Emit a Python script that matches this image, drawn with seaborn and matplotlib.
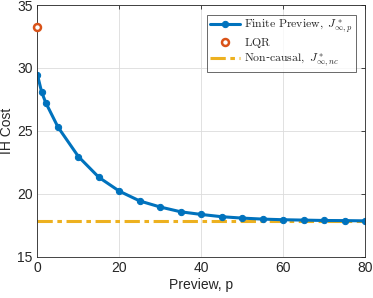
import numpy as np
import pandas as pd
import matplotlib
matplotlib.use("Agg")
import matplotlib.pyplot as plt
import seaborn as sns

# values
preview = [0, 1, 2, 5, 10, 15, 20, 25, 30, 35, 40, 45, 50, 55, 60, 65, 70, 75, 80]
finite_cost = [29.44, 28.1, 27.25, 25.3, 22.95, 21.3, 20.2, 19.42, 18.94, 18.56,
               18.35, 18.17, 18.06, 17.98, 17.93, 17.9, 17.87, 17.86, 17.84]
lqr_cost = 33.25
noncausal_cost = 17.82

df = pd.DataFrame({"p": preview, "J": finite_cost})

sns.set_style("white")
plt.rcParams["font.family"] = ["Liberation Sans", "DejaVu Sans"]
plt.rcParams["mathtext.fontset"] = "cm"

blue = "#0072BD"
orange = "#D95319"
yellow = "#EDB120"

fig = plt.figure(figsize=(3.73, 2.98), dpi=100)
ax = fig.add_axes([0.1005, 0.139, 0.878, 0.844])

sns.lineplot(data=df, x="p", y="J", ax=ax, color=blue, linewidth=2.2,
             marker="o", markersize=4.5, markeredgecolor=blue,
             label=r"$\mathrm{Finite\ Preview,}\ J^*_{\infty,p}$")
ax.plot([0], [lqr_cost], linestyle="none", marker="o", markersize=5,
        markerfacecolor="white", markeredgecolor=orange, markeredgewidth=1.8,
        label=r"$\mathrm{LQR}$", clip_on=False, zorder=5)
ax.axhline(noncausal_cost, color=yellow, linewidth=2.2, linestyle=(0, (5, 1.5, 1.5, 1.5)),
           label=r"$\mathrm{Non}$-$\mathrm{causal,}\ J^*_{\infty,nc}$", zorder=1)

ax.set_xlim(0, 80)
ax.set_ylim(15, 35)
ax.set_xticks([0, 20, 40, 60, 80])
ax.set_yticks([15, 20, 25, 30, 35])
ax.set_xlabel("Preview, p", fontsize=10, color="#262626", labelpad=2)
ax.set_ylabel("IH Cost", fontsize=10, color="#262626", labelpad=2)
ax.tick_params(direction="in", length=3, labelsize=10, colors="#262626",
               top=True, right=True, width=0.6)
ax.grid(True, color="#dcdcdc", linewidth=0.6)
for s in ax.spines.values():
    s.set_color("#262626")
    s.set_linewidth(0.6)

leg = ax.legend(loc="upper right", fontsize=8.5, frameon=True, fancybox=False,
                handlelength=2.6, handletextpad=0.3, borderpad=0.25,
                labelspacing=0.1, borderaxespad=0.8)
leg.get_frame().set_edgecolor("#262626")
leg.get_frame().set_linewidth(0.6)

fig.savefig("out.png", dpi=100)
